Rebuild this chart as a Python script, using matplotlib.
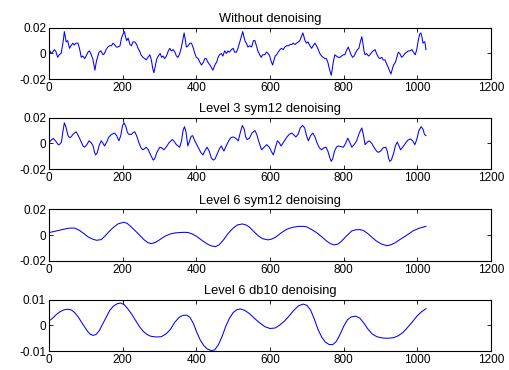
import numpy as np
import matplotlib
matplotlib.use('Agg')
import matplotlib.pyplot as plt

# --- datos ---
# sin filtrar
x1 = [0, 3, 6, 10, 15, 19, 24, 28, 33, 37, 40, 42, 45, 47, 51, 56, 60, 65, 69, 73, 79, 83, 88,
      92, 97, 101, 106, 110, 115, 119, 123, 125, 129, 133, 136, 141, 147, 151, 155, 160, 165,
      170, 174, 178, 183, 188, 193, 197, 201, 205, 208, 211, 215, 220, 224, 228, 233, 238, 242,
      246, 250, 255, 260, 264, 269, 274, 278, 282, 285, 288, 293, 297, 302, 306, 310, 314, 319,
      324, 328, 332, 337, 342, 346, 350, 354, 359, 363, 367, 370, 373, 378, 383, 387, 392, 396,
      400, 405, 410, 414, 419, 423, 427, 432, 437, 441, 445, 449, 452, 455, 459, 463, 468, 472,
      477, 482, 486, 490, 495, 500, 504, 509, 513, 518, 522, 526, 530, 533, 536, 540, 545, 550,
      555, 559, 563, 567, 572, 576, 580, 586, 590, 595, 599, 603, 607, 611, 614, 618, 622, 627,
      631, 636, 640, 645, 650, 655, 659, 663, 668, 672, 677, 681, 685, 689, 692, 695, 699, 703,
      708, 713, 717, 722, 726, 731, 735, 740, 744, 749, 753, 757, 761, 766, 769, 772, 776, 780,
      785, 790, 794, 799, 803, 807, 812, 816, 820, 824, 828, 833, 837, 841, 845, 849, 852, 855,
      858, 862, 867, 871, 876, 880, 885, 889, 894, 898, 903, 907, 912, 916, 921, 925, 928, 931,
      935, 940, 944, 948, 952, 957, 961, 966, 971, 975, 980, 985, 989, 994, 998, 1002, 1006,
      1009, 1012, 1015, 1018, 1020, 1023]
y1 = [0.001, 0.002, 0.0, 0.001, 0.003, 0.0015, -0.003, -0.001, 0.0, 0.006, 0.012, 0.017, 0.012,
      0.009, 0.010, 0.004, 0.006, 0.008, 0.0065, 0.008, 0.008, 0.004, -0.003, -0.002, -0.004,
      -0.002, 0.001, 0.002, -0.001, -0.004, -0.010, -0.013, -0.006, -0.002, 0.001, 0.002, -0.001,
      0.0, 0.003, 0.005, 0.006, 0.006, 0.008, 0.007, 0.005, 0.005, 0.006, 0.012, 0.015, 0.017,
      0.013, 0.010, 0.012, 0.007, 0.006, 0.009, 0.009, 0.007, 0.004, 0.002, -0.001, -0.003,
      -0.004, -0.005, -0.003, -0.001, -0.005, -0.012, -0.015, -0.011, -0.004, -0.002, 0.0, -0.003,
      -0.002, -0.004, -0.002, 0.002, 0.004, 0.002, 0.003, 0.001, -0.002, -0.003, -0.001, 0.004,
      0.010, 0.016, 0.011, 0.005, 0.006, 0.008, 0.008, 0.004, 0.0, -0.003, -0.004, -0.007,
      -0.009, -0.007, -0.004, -0.004, -0.007, -0.009, -0.011, -0.013, -0.010, -0.008, -0.007,
      -0.003, -0.001, 0.0, -0.002, 0.002, 0.0, 0.002, 0.001, 0.003, 0.004, 0.001, 0.001, 0.004,
      0.009, 0.013, 0.017, 0.012, 0.009, 0.008, 0.005, 0.006, 0.005, 0.010, 0.010, 0.006, 0.002,
      -0.001, -0.003, -0.001, -0.001, 0.001, 0.0, -0.002, -0.006, -0.009, -0.005, -0.002, -0.001,
      0.001, 0.003, 0.004, 0.003, 0.005, 0.006, 0.006, 0.007, 0.007, 0.008, 0.007, 0.008, 0.009,
      0.010, 0.013, 0.016, 0.013, 0.010, 0.008, 0.009, 0.006, 0.004, 0.006, 0.008, 0.006, 0.003,
      0.0, -0.002, -0.003, -0.004, -0.004, -0.007, -0.012, -0.017, -0.012, -0.006, -0.001,
      -0.002, -0.003, -0.003, -0.002, -0.001, -0.001, 0.002, 0.005, 0.002, -0.001, -0.003,
      -0.002, 0.001, 0.003, 0.004, 0.009, 0.013, 0.008, 0.002, -0.001, 0.0, -0.002, -0.001,
      0.001, 0.002, 0.003, 0.0, -0.003, -0.004, -0.003, -0.005, -0.005, -0.008, -0.011, -0.014,
      -0.016, -0.013, -0.009, -0.007, -0.003, 0.001, 0.0, -0.003, -0.002, 0.0, 0.001, 0.002,
      0.002, 0.003, 0.001, -0.001, 0.003, 0.010, 0.015, 0.016, 0.013, 0.008, 0.009, 0.009, 0.003]

# nivel 3 sym12
x2 = [0, 6, 12, 18, 26, 30, 34, 38, 42, 46, 52, 56, 60, 67, 74, 80, 88, 93, 97, 103, 109, 115,
      120, 124, 127, 131, 136, 142, 146, 151, 157, 163, 170, 178, 184, 190, 195, 200, 204, 209,
      213, 217, 224, 229, 233, 238, 245, 250, 255, 260, 264, 270, 276, 283, 287, 293, 301, 306,
      312, 318, 326, 335, 340, 346, 355, 360, 364, 368, 372, 377, 382, 386, 390, 396, 405, 412,
      418, 423, 429, 435, 441, 446, 451, 457, 463, 468, 471, 475, 481, 488, 494, 500, 507, 514,
      519, 525, 530, 534, 538, 544, 551, 559, 564, 570, 577, 584, 591, 598, 604, 609, 614, 620,
      625, 630, 638, 646, 652, 659, 665, 670, 676, 682, 688, 694, 699, 704, 710, 716, 722, 728,
      734, 740, 746, 752, 757, 762, 766, 770, 775, 780, 785, 792, 799, 805, 811, 816, 822, 828,
      835, 842, 849, 853, 858, 864, 869, 876, 883, 889, 894, 900, 907, 914, 918, 922, 925, 929,
      935, 940, 945, 950, 954, 960, 967, 974, 981, 987, 993, 998, 1004, 1010, 1015, 1019, 1023]
y2 = [0.0, 0.0025, 0.0038, 0.002, -0.0012, -0.0005, 0.001, 0.009, 0.016, 0.013, 0.006, 0.0045,
      0.005, 0.0075, 0.009, 0.006, 0.001, -0.0022, -0.003, -0.001, 0.002, 0.0005, -0.002, -0.007,
      -0.009, -0.0075, -0.002, 0.002, 0.0005, -0.002, 0.001, 0.005, 0.007, 0.008, 0.006, 0.002,
      0.006, 0.014, 0.016, 0.013, 0.0085, 0.007, 0.007, 0.0085, 0.009, 0.006, 0.0, -0.0035,
      -0.005, -0.004, -0.003, -0.005, -0.009, -0.013, -0.012, -0.007, -0.003, -0.0035, -0.005,
      -0.003, 0.0005, 0.003, 0.0015, -0.001, -0.003, 0.002, 0.010, 0.013, 0.009, -0.002, 0.002,
      0.0055, 0.006, 0.002, -0.003, -0.007, -0.009, -0.006, -0.003, -0.006, -0.0115, -0.013,
      -0.012, -0.008, -0.004, -0.002, -0.004, -0.006, -0.002, 0.002, 0.0045, 0.005, 0.004, 0.002,
      0.008, 0.014, 0.011, 0.005, 0.003, 0.004, 0.008, 0.010, 0.007, 0.001, -0.005, -0.003,
      -0.001, -0.003, -0.0065, -0.009, -0.004, 0.002, 0.0005, -0.002, 0.0015, 0.005, 0.007,
      0.008, 0.0065, 0.005, 0.007, 0.012, 0.014, 0.012, 0.006, 0.002, 0.006, 0.008, 0.005, 0.0,
      -0.0035, -0.005, -0.0035, -0.003, -0.006, -0.011, -0.014, -0.012, -0.006, -0.003, -0.002,
      -0.0025, -0.003, 0.0, 0.004, 0.001, -0.003, -0.001, 0.002, 0.008, 0.012, 0.007, -0.001,
      0.001, 0.002, 0.0, -0.0035, -0.006, -0.007, -0.006, -0.0035, -0.003, -0.006, -0.012,
      -0.014, -0.013, -0.008, -0.002, 0.001, -0.002, -0.005, -0.003, 0.0, 0.0025, 0.0035, 0.002,
      -0.001, 0.003, 0.010, 0.013, 0.011, 0.007, 0.006]

# nivel 6 sym12
x3 = [0, 12, 24, 36, 47, 58, 70, 83, 95, 106, 118, 129, 142, 153, 165, 177, 188, 203, 212,
      222, 234, 246, 258, 268, 278, 290, 301, 314, 328, 342, 355, 368, 378, 390, 400, 414, 428,
      440, 452, 462, 473, 486, 500, 512, 525, 536, 545, 557, 568, 580, 595, 605, 614, 630, 645,
      660, 677, 690, 699, 712, 726, 740, 753, 765, 775, 785, 794, 808, 822, 833, 845, 855, 866,
      878, 889, 903, 917, 928, 939, 952, 966, 978, 989, 1006, 1023]
y3 = [0.002, 0.0027, 0.0035, 0.0043, 0.005, 0.0055, 0.0055, 0.0037, 0.0012, -0.0013, -0.003,
      -0.004, -0.0035, -0.0005, 0.0033, 0.0065, 0.0088, 0.010, 0.0092, 0.0068, 0.0035, 0.0,
      -0.0035, -0.0058, -0.0066, -0.0055, -0.0035, -0.001, 0.0008, 0.0017, 0.002, 0.0022, 0.002,
      0.0008, -0.0008, -0.0038, -0.0066, -0.0083, -0.009, -0.0075, -0.004, 0.0012, 0.0055,
      0.008, 0.0087, 0.0078, 0.006, 0.0025, -0.0005, -0.0028, -0.0037, -0.003, -0.0018, 0.0017,
      0.0045, 0.006, 0.0068, 0.0068, 0.0065, 0.0045, 0.002, -0.0012, -0.0045, -0.0068, -0.0076,
      -0.0068, -0.0047, -0.0005, 0.0033, 0.0042, 0.0043, 0.0033, 0.001, -0.002, -0.0047, -0.007,
      -0.0082, -0.0075, -0.006, -0.0035, -0.001, 0.0013, 0.0035, 0.0055, 0.0068]

# nivel 6 db10
x4 = [0, 10, 20, 30, 40, 50, 61, 70, 79, 88, 97, 105, 112, 120, 128, 137, 145, 155, 165, 175,
      185, 195, 205, 215, 225, 235, 246, 256, 266, 276, 290, 305, 318, 330, 342, 354, 364, 374,
      383, 392, 400, 410, 420, 430, 441, 450, 460, 470, 480, 490, 500, 510, 520, 532, 545, 558,
      572, 586, 600, 614, 627, 640, 652, 664, 677, 690, 700, 710, 720, 730, 740, 750, 760, 770,
      780, 790, 800, 810, 820, 832, 844, 855, 866, 877, 890, 905, 920, 935, 948, 960, 972, 985,
      998, 1010, 1023]
y4 = [0.0017, 0.0028, 0.0042, 0.0053, 0.006, 0.0063, 0.006, 0.005, 0.0034, 0.0014, -0.0006,
      -0.0023, -0.0034, -0.0039, -0.0035, -0.002, 0.0003, 0.003, 0.0058, 0.0075, 0.0084, 0.0087,
      0.008, 0.0063, 0.0043, 0.002, -0.0005, -0.0023, -0.0035, -0.0042, -0.0045, -0.0044,
      -0.0033, -0.0015, 0.0013, 0.0032, 0.0039, 0.004, 0.0031, 0.0008, -0.0022, -0.0055,
      -0.0078, -0.0092, -0.0098, -0.0095, -0.0075, -0.0043, -0.0003, 0.0028, 0.005, 0.0061,
      0.0064, 0.0058, 0.0045, 0.0027, 0.001, -0.0005, -0.0012, -0.001, 0.0002, 0.0018, 0.0037,
      0.0058, 0.0076, 0.0083, 0.0078, 0.006, 0.0025, -0.0015, -0.0045, -0.0065, -0.0074,
      -0.0075, -0.0062, -0.0035, -0.0003, 0.0022, 0.0033, 0.0036, 0.0028, 0.0008, -0.0015,
      -0.0033, -0.0044, -0.0049, -0.005, -0.0048, -0.004, -0.0028, -0.001, 0.0012, 0.0035,
      0.0052, 0.0065]

titulos = ['Without denoising', 'Level 3 sym12 denoising',
           'Level 6 sym12 denoising', 'Level 6 db10 denoising']
series = [(x1, y1), (x2, y2), (x3, y3), (x4, y4)]
yticks = [[-0.02, 0, 0.02], [-0.02, 0, 0.02], [-0.02, 0, 0.02], [-0.01, 0, 0.01]]
ylabels = [['-0.02', '0', '0.02'], ['-0.02', '0', '0.02'],
           ['-0.02', '0', '0.02'], ['-0.01', '0', '0.01']]
xticks = [0, 200, 400, 600, 800, 1000, 1200]

plt.rcParams['font.family'] = ['Liberation Sans', 'DejaVu Sans']
plt.rcParams['font.size'] = 8

fig = plt.figure(figsize=(5.09, 3.70), dpi=100)
# posiciones de los ejes (fraccion de figura)
bottoms = [0.786, 0.543, 0.295, 0.051]
for i in range(4):
    ax = fig.add_axes([0.096, bottoms[i], 0.869, 0.139])
    ax.plot(series[i][0], series[i][1], color='#0000ff', linewidth=0.75)
    ax.set_xlim(0, 1200)
    ax.set_ylim(yticks[i][0], yticks[i][-1])
    ax.set_xticks(xticks)
    ax.set_xticklabels([str(t) for t in xticks])
    ax.set_yticks(yticks[i])
    ax.set_yticklabels(ylabels[i])
    ax.tick_params(direction='in', top=True, right=True, length=3, width=0.6, pad=2,
                   labelsize=8.5)
    for s in ax.spines.values():
        s.set_linewidth(0.8)
    ax.set_title(titulos[i], fontsize=9.3, pad=4)

fig.savefig('out.png', dpi=100)
